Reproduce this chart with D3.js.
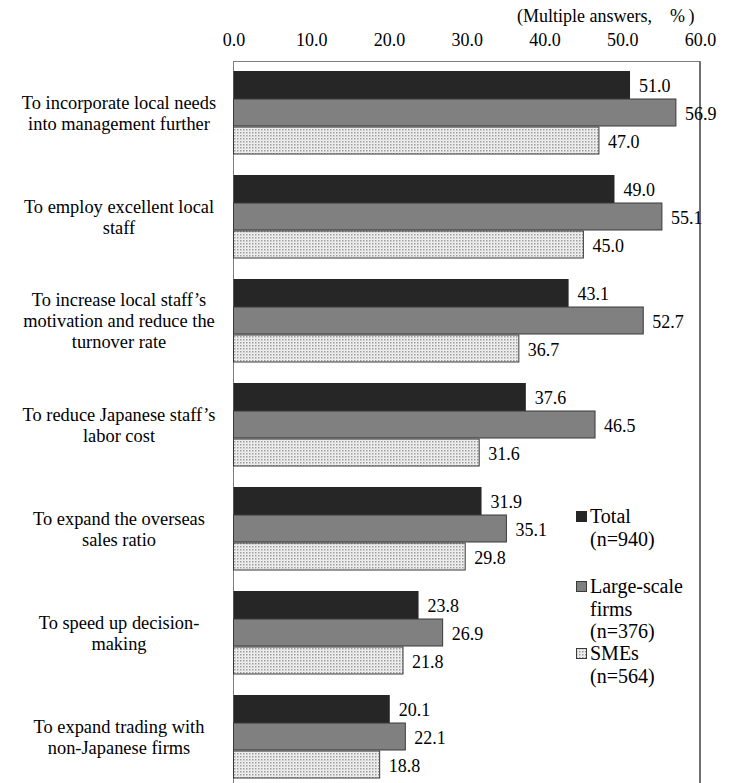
<!DOCTYPE html>
<html><head><meta charset="utf-8">
<script src="https://cdn.jsdelivr.net/npm/d3@7"></script>
<style>body{margin:0;background:#fff}svg{display:block}</style>
</head><body><svg id="c" width="730" height="783"></svg>
<script>
const categories = [
  ["To incorporate local needs","into management further"],
  ["To employ excellent local","staff"],
  ["To increase local staff\u2019s","motivation and reduce the","turnover rate"],
  ["To reduce Japanese staff\u2019s","labor cost"],
  ["To expand the overseas","sales ratio"],
  ["To speed up decision-","making"],
  ["To expand trading with","non-Japanese firms"]
];
const seriesNames = ["Total","Large-scale firms","SMEs"];
const legendLines = [["Total","(n=940)"],["Large-scale","firms","(n=376)"],["SMEs","(n=564)"]];
const total = [51.0,49.0,43.1,37.6,31.9,23.8,20.1];
const large = [56.9,55.1,52.7,46.5,35.1,26.9,22.1];
const smes  = [47.0,45.0,36.7,31.6,29.8,21.8,18.8];
const tickValues = [0,10,20,30,40,50,60];
const unitLabel = "(Multiple answers,\u3000%\u2009)";

const FONT = "'Liberation Serif', Tinos, 'Times New Roman', serif";
const svg = d3.select("#c").attr("font-family", FONT);
const defs = svg.append("defs");
const pat = defs.append("pattern").attr("id","dots").attr("patternUnits","userSpaceOnUse").attr("width",3).attr("height",3);
pat.append("rect").attr("width",3).attr("height",3).attr("fill","#f2f2f2");
pat.append("rect").attr("width",1.5).attr("height",1.5).attr("fill","#9a9a9a");
pat.append("rect").attr("x",1.5).attr("y",1.5).attr("width",1).attr("height",1).attr("fill","#d0d0d0");

const leftX = 233.5, rightX = 700, topY = 61.5;
const x = d3.scaleLinear().domain([0,60]).range([leftX,rightX]);
const y = d3.scaleBand().domain(d3.range(categories.length)).range([61, 61+104*7]).paddingInner(0).paddingOuter(0);
const sub = d3.scaleBand().domain([0,1,2]).range([10, 94]).padding(0);

const fills = ["#262626","#808080","url(#dots)"];
const strokes = ["none","#3a3a3a","#3a3a3a"];
const data = [total, large, smes];

// frame
svg.append("rect").attr("x",leftX).attr("y",topY).attr("width",rightX-leftX).attr("height",800).attr("fill","none").attr("stroke","#7f7f7f").attr("stroke-width",1);
svg.append("line").attr("x1",rightX).attr("x2",rightX).attr("y1",topY).attr("y2",790).attr("stroke","#222").attr("stroke-width",1);

// axis
const axis = d3.axisTop(x).tickValues(tickValues).tickFormat(d3.format(".1f")).tickSize(0).tickPadding(0);
const ax = svg.append("g").attr("transform","translate(0,46)").call(axis).attr("font-family",FONT).attr("font-size",18);
ax.select(".domain").remove();
ax.selectAll("text").attr("fill","#000").attr("dy",0);

svg.append("text").attr("x",517).attr("y",22).attr("font-size",18).attr("xml:space","preserve").text(unitLabel);

// bars
const g = svg.append("g");
data.forEach((vals,s)=>{
  g.selectAll(null).data(vals).enter().append("rect")
    .attr("x",leftX).attr("y",(d,i)=>y(i)+sub(s))
    .attr("width",d=>x(d)-leftX).attr("height",sub.bandwidth()-(s===0?0:1))
    .attr("fill",fills[s]).attr("stroke",strokes[s]).attr("stroke-width",1);
  g.selectAll(null).data(vals).enter().append("text")
    .attr("x",d=>x(d)+9).attr("y",(d,i)=>y(i)+sub(s)+sub.bandwidth()/2+7)
    .attr("font-size",18).text(d=>d.toFixed(1));
});

// category labels
categories.forEach((lines,i)=>{
  const cy = y(i)+52;
  const lh = 21;
  const y0 = cy - (lines.length-1)*lh/2 + 6;
  const t = svg.append("text").attr("text-anchor","middle").attr("font-size",18.4);
  lines.forEach((l,k)=>t.append("tspan").attr("x",119).attr("y",y0+k*lh).text(l));
});

// legend
const legY = [523, 593, 660];
legendLines.forEach((lines,s)=>{
  svg.append("rect").attr("x",576.5).attr("y",legY[s]-11.5).attr("width",10).attr("height",10)
    .attr("fill",fills[s]).attr("stroke",s===0?"#262626":"#3a3a3a").attr("stroke-width",1);
  lines.forEach((l,k)=>svg.append("text").attr("x",590).attr("y",legY[s]+k*22.5).attr("font-size",20).text(l));
});
</script></body></html>
